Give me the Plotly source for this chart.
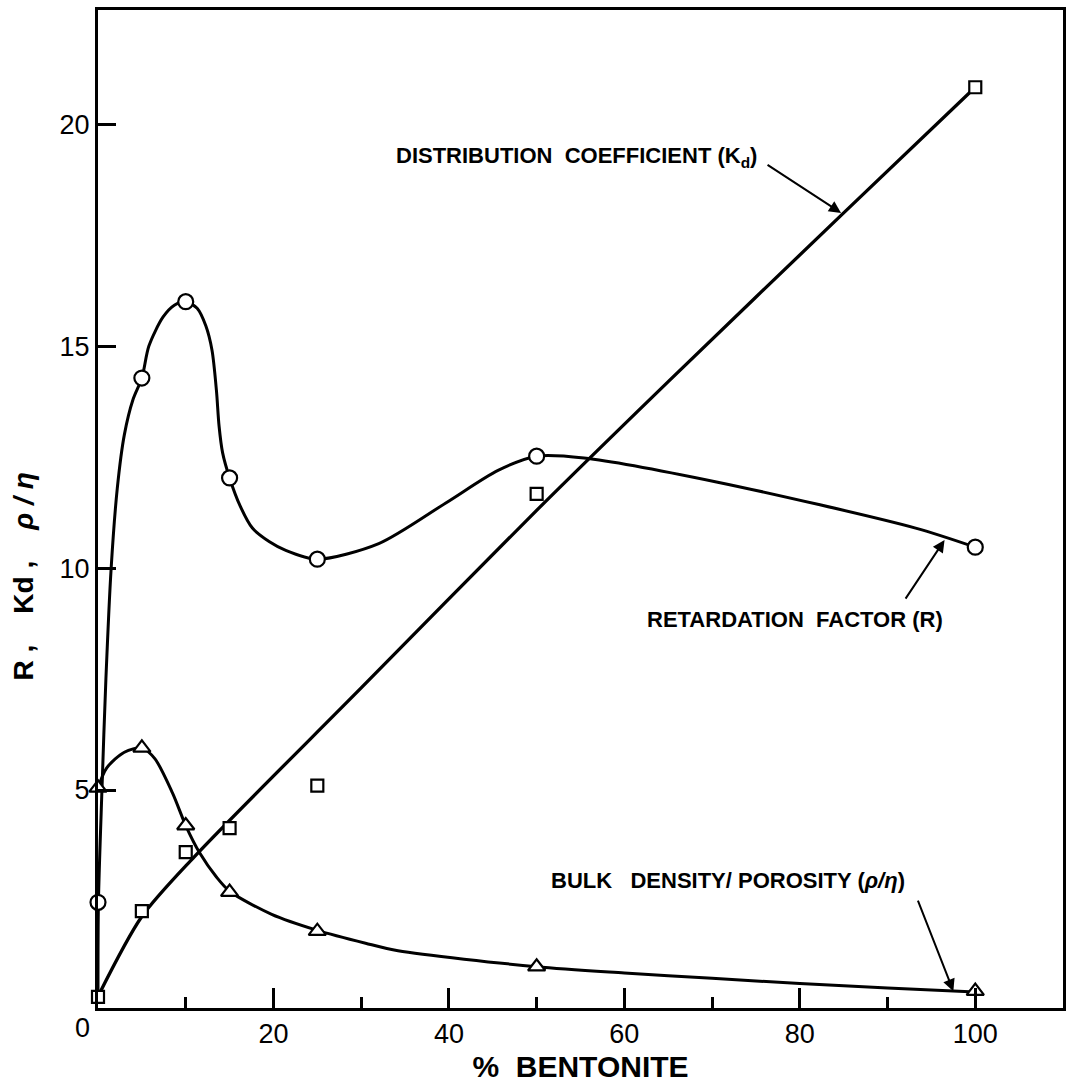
import plotly.graph_objects as go

# Measured points (% bentonite)
bentonite = [0, 5, 10, 15, 25, 50, 100]
retardation_R = [2.47, 14.28, 16.0, 12.03, 10.2, 12.52, 10.47]
kd_values = [0.34, 2.27, 3.6, 4.14, 5.1, 11.67, 20.83]
rho_over_eta = [5.05, 5.95, 4.2, 2.70, 1.82, 1.02, 0.47]

# Hand-drawn fitted curves
r_curve_x = [0, 0.05, 0.45, 0.9, 1.5, 2.2, 3.0, 4.0, 5, 5.8, 7.4, 8.7, 10, 11.3, 12.3, 13.0, 13.5, 13.8,
             14.2, 15, 16.2, 17.6, 19.5, 21.4, 25, 32, 39.6, 45.6, 50, 55.4, 70.5, 93.2, 100]
r_curve_y = [0.35, 2.47, 5.0, 7.5, 10.0, 11.8, 13.0, 13.8, 14.28, 15.0, 15.65, 15.92, 16.0, 15.85, 15.45,
             14.9, 14.0, 13.2, 12.6, 12.03, 11.4, 10.9, 10.6, 10.4, 10.2, 10.55, 11.46, 12.2, 12.52, 12.48,
             11.94, 10.9, 10.47]
kd_curve_x = [0, 5, 11, 30, 50, 65, 85, 100]
kd_curve_y = [0.35, 2.15, 3.5, 7.3, 11.3, 14.2, 18.0, 20.83]
rho_curve_x = [0, 1, 3, 5, 6.5, 8.5, 10, 11.6, 13.5, 15, 19.8, 25, 30.5, 34.2, 50, 60, 70, 80, 90, 100]
rho_curve_y = [5.05, 5.5, 5.85, 5.95, 5.7, 4.93, 4.2, 3.58, 3.04, 2.72, 2.2, 1.84, 1.55, 1.38, 1.02, 0.88,
               0.76, 0.64, 0.54, 0.45]

x_tick_vals = [20, 40, 60, 80, 100]
x_tick_text = ["20", "40", "60", "80", "100"]
x_minor_vals = [10, 30, 50, 70, 90]
y_tick_vals = [5, 10, 15, 20]
y_tick_text = ["5", "10", "15", "20"]

FONT = "Liberation Sans"
fig = go.Figure()

line_style = dict(color="black", width=3, shape="spline", smoothing=0.8)
fig.add_trace(go.Scatter(x=r_curve_x, y=r_curve_y, mode="lines", line=line_style,
                         cliponaxis=False, hoverinfo="skip"))
fig.add_trace(go.Scatter(x=kd_curve_x, y=kd_curve_y, mode="lines", line=dict(line_style, width=3.3),
                         cliponaxis=False, hoverinfo="skip"))
fig.add_trace(go.Scatter(x=rho_curve_x, y=rho_curve_y, mode="lines", line=line_style,
                         cliponaxis=False, hoverinfo="skip"))

fig.add_trace(go.Scatter(x=bentonite, y=retardation_R, mode="markers", name="R", cliponaxis=False,
                         marker=dict(symbol="circle", size=15, color="white",
                                     line=dict(color="black", width=2.2))))
fig.add_trace(go.Scatter(x=bentonite, y=kd_values, mode="markers", name="Kd", cliponaxis=False,
                         marker=dict(symbol="square", size=12, color="white",
                                     line=dict(color="black", width=2.2))))
fig.add_trace(go.Scatter(x=bentonite, y=rho_over_eta, mode="markers", name="rho/eta", cliponaxis=False,
                         marker=dict(symbol="triangle-up", size=15, color="white",
                                     line=dict(color="black", width=2.2))))

label_font = dict(family=FONT, size=22, color="black")
arrow = dict(showarrow=True, arrowhead=2, arrowsize=1.2, arrowwidth=2, arrowcolor="black", text="")
ann = []
ann.append(dict(x=54.5, y=19.26, xref="x", yref="y", showarrow=False,
                text="<b>DISTRIBUTION  COEFFICIENT (K<sub>d</sub>)</b>", font=label_font))
ann.append(dict(x=84.7, y=18.0, xref="x", yref="y", ax=-75, ay=-49, **arrow))
ann.append(dict(x=79.5, y=8.83, xref="x", yref="y", showarrow=False,
                text="<b>RETARDATION  FACTOR (R)</b>", font=label_font))
ann.append(dict(x=96.5, y=10.63, xref="x", yref="y", ax=-40, ay=60, **arrow))
ann.append(dict(x=71.8, y=2.97, xref="x", yref="y", showarrow=False,
                text="<b>BULK   DENSITY/ POROSITY (<i>ρ/η</i>)</b>", font=label_font))
ann.append(dict(x=97.5, y=0.47, xref="x", yref="y", ax=-36, ay=-92, **arrow))
# x-axis "0" label, offset left as in the original
ann.append(dict(x=-0.016, y=-0.02, xref="paper", yref="paper", xanchor="center", yanchor="middle",
                showarrow=False, text="0", font=dict(family=FONT, size=27, color="black")))
# y-axis title
ann.append(dict(x=-0.077, y=0.432, xref="paper", yref="paper", xanchor="center", yanchor="middle",
                showarrow=False, textangle=-90,
                text="<b>R ,    Kd ,    <i>ρ / η</i></b>", font=dict(family=FONT, size=28, color="black")))

fig.update_layout(
    width=1070, height=1086, autosize=False,
    margin=dict(l=98, r=4, t=10, b=78),
    paper_bgcolor="white", plot_bgcolor="white",
    showlegend=False,
    annotations=ann,
    xaxis=dict(range=[0, 110], showgrid=False, zeroline=False,
               showline=True, linecolor="black", linewidth=3, mirror=True,
               ticks="inside", ticklen=20, tickwidth=2.5, tickcolor="black",
               tickvals=x_tick_vals, ticktext=x_tick_text,
               minor=dict(ticks="inside", ticklen=11, tickwidth=2.5, tickcolor="black",
                          tickvals=x_minor_vals),
               tickfont=dict(family=FONT, size=27, color="black"),
               title=dict(text="<b>%  BENTONITE</b>", font=dict(family=FONT, size=30, color="black"),
                          standoff=8)),
    yaxis=dict(range=[0.09, 22.57], showgrid=False, zeroline=False,
               showline=True, linecolor="black", linewidth=3, mirror=True,
               ticks="inside", ticklen=18, tickwidth=2.5, tickcolor="black",
               tickvals=y_tick_vals, ticktext=y_tick_text,
               tickfont=dict(family=FONT, size=27, color="black")),
)

fig.write_html("out.html")
